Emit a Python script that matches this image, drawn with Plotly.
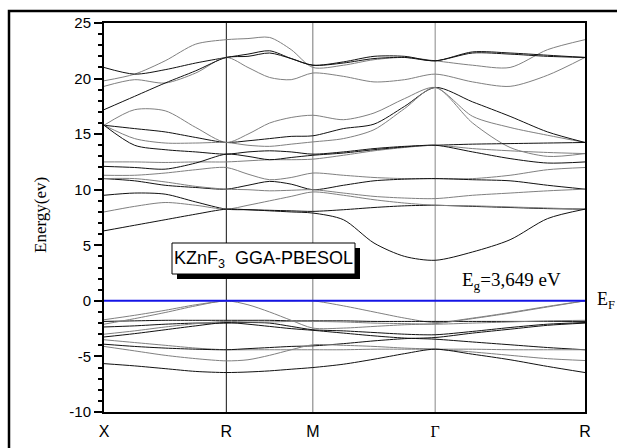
import numpy as np
import plotly.graph_objects as go

# ---- k-path ----
k_labels = ["X", "R", "M", "Γ", "R"]
k_nodes = [0.0, 0.7071, 1.2071, 1.9142, 2.7802]

# ---- energy ticks ----
y_ticks = [-10, -5, 0, 5, 10, 15, 20, 25]
y_ticktext = ["-10", "-5", "0", "5", "10", "15", "20", "25"]

# ---- bands (eV) sampled at 5 points per segment (shared endpoints) ----
cb01 = [19.8, 20.4, 21.6, 23.1, 23.5, 23.6, 23.7, 22.6, 21.0, 21.2, 21.7, 21.9, 21.6, 21.2, 21.0, 22.6, 23.5]
cb02 = [21.0, 20.4, 20.8, 21.4, 21.9, 22.2, 22.5, 21.8, 21.2, 21.5, 22.0, 22.0, 21.6, 22.4, 22.3, 22.1, 21.9]
cb03 = [19.3, 19.9, 19.6, 20.5, 21.9, 21.0, 20.1, 19.9, 20.5, 20.2, 19.7, 19.9, 20.4, 19.7, 19.3, 20.3, 21.9]
cb04 = [17.2, 18.4, 19.6, 20.7, 21.9, 22.0, 22.3, 21.8, 21.2, 21.4, 21.8, 21.9, 21.6, 22.3, 22.2, 22.0, 21.9]
cb05 = [15.8, 17.2, 17.1, 15.6, 14.25, 15.0, 16.0, 16.5, 16.7, 16.3, 16.9, 18.2, 19.2, 16.6, 15.6, 14.9, 14.25]
cb06 = [15.8, 15.5, 15.2, 14.7, 14.25, 14.4, 14.6, 14.8, 14.85, 15.5, 15.9, 17.5, 19.2, 17.9, 16.6, 15.2, 14.25]
cb07 = [15.8, 14.6, 14.2, 14.2, 14.25, 14.0, 13.9, 14.1, 14.3, 14.6, 15.4, 17.3, 19.2, 16.0, 13.8, 13.0, 13.25]
cb08 = [15.8, 14.0, 13.6, 13.4, 13.2, 13.4, 13.5, 13.4, 13.2, 13.4, 13.7, 13.9, 14.0, 14.1, 14.15, 14.2, 14.25]
cb09 = [12.5, 12.5, 12.45, 12.5, 12.5, 12.6, 12.7, 12.7, 12.75, 13.1, 13.5, 13.8, 14.0, 13.7, 13.5, 13.35, 13.25]
cb10 = [12.1, 12.0, 11.85, 12.4, 13.2, 13.0, 12.7, 12.9, 13.1, 13.3, 13.6, 13.85, 14.0, 13.4, 12.8, 12.4, 12.5]
cb11 = [11.3, 11.3, 11.5, 11.8, 12.0, 11.4, 10.9, 11.1, 11.5, 11.3, 11.1, 11.0, 11.0, 11.0, 11.3, 11.8, 12.0]
cb12 = [11.0, 10.8, 10.4, 10.2, 10.05, 10.4, 10.75, 10.5, 10.0, 10.4, 10.8, 10.95, 11.0, 10.9, 10.8, 10.4, 10.05]
cb13 = [11.0, 11.0, 10.7, 10.3, 10.05, 10.0, 9.9, 9.95, 10.0, 9.7, 9.4, 9.25, 9.2, 9.5, 9.7, 9.9, 10.05]
cb14 = [9.5, 9.7, 9.6, 8.9, 8.25, 8.2, 8.15, 8.1, 8.05, 8.2, 8.4, 8.55, 8.6, 8.5, 8.4, 8.3, 8.25]
cb15 = [8.0, 8.5, 8.85, 8.6, 8.25, 8.6, 9.0, 9.4, 9.8, 9.5, 9.1, 8.8, 8.6, 8.55, 8.45, 8.35, 8.25]
cb16 = [6.3, 6.8, 7.3, 7.8, 8.25, 8.2, 8.1, 8.0, 7.9, 7.3, 5.2, 4.0, 3.65, 4.4, 5.5, 7.4, 8.25]

vb01 = [-1.7, -1.3, -0.85, -0.35, 0, 0, 0, 0, 0, -0.45, -1.0, -1.55, -1.95, -1.55, -1.05, -0.5, 0]
vb02 = [-1.85, -1.8, -1.75, -1.75, -1.75, -1.75, -1.75, -1.8, -1.8, -1.8, -1.85, -1.85, -1.85, -1.85, -1.85, -1.85, -1.85]
vb03 = [-2.1, -1.6, -1.05, -0.45, 0, -0.35, -1.0, -1.75, -2.45, -2.45, -2.3, -2.15, -2.05, -1.6, -1.1, -0.55, 0]
vb04 = [-2.35, -2.25, -2.1, -2.0, -2.0, -1.95, -2.0, -2.3, -2.6, -2.7, -2.85, -3.0, -3.05, -2.75, -2.4, -2.1, -1.95]
vb05 = [-3.0, -2.7, -2.35, -2.05, -1.85, -1.9, -1.9, -1.85, -1.85, -1.9, -2.0, -2.05, -2.1, -2.0, -1.9, -1.8, -1.75]
vb06 = [-3.25, -2.95, -2.6, -2.25, -1.95, -2.1, -2.3, -2.5, -2.65, -2.9, -3.15, -3.35, -3.45, -3.7, -3.95, -4.2, -4.4]
vb07 = [-3.5, -3.75, -4.0, -4.25, -4.4, -4.4, -4.4, -4.4, -4.4, -4.4, -4.35, -4.35, -4.35, -4.35, -4.4, -4.4, -4.4]
vb08 = [-3.9, -4.1, -4.25, -4.35, -4.4, -4.3, -4.2, -4.1, -4.05, -3.85, -3.6, -3.4, -3.3, -2.9, -2.55, -2.2, -2.0]
vb09 = [-4.1, -4.5, -4.9, -5.2, -5.4, -5.3, -4.9, -4.4, -3.95, -4.0, -4.1, -4.25, -4.35, -4.6, -4.9, -5.2, -5.37]
vb10 = [-5.65, -5.85, -6.1, -6.35, -6.45, -6.4, -6.3, -6.15, -6.0, -5.7, -5.25, -4.75, -4.35, -4.8, -5.3, -5.9, -6.45]

bands = [cb01, cb02, cb03, cb04, cb05, cb06, cb07, cb08, cb09, cb10, cb11, cb12, cb13, cb14, cb15, cb16,
         vb01, vb02, vb03, vb04, vb05, vb06, vb07, vb08, vb09, vb10]
band_colors = ["#808080", "#111111"]

title_text = "KZnF<sub>3</sub>  GGA-PBESOL"
gap_text = "E<sub>g</sub>=3,649 eV"
fermi_text = "E<sub>F</sub>"
y_title = "Energy(ev)"

# ---- k axis built from the path nodes ----
kk = []
for i in range(len(k_nodes) - 1):
    seg = np.linspace(k_nodes[i], k_nodes[i + 1], 5)
    kk.extend(seg if i == 0 else seg[1:])
kk = np.array(kk)

W, H = 617, 448
L, R, T, B = 104, 585, 23, 412
def px(x):
    return (x - L) / (R - L)
def py(y):
    return (B - y) / (B - T)

fig = go.Figure()
for i, b in enumerate(bands):
    fig.add_trace(go.Scatter(x=kk, y=b, mode="lines",
                             line=dict(color=band_colors[i % 2], width=1, shape="spline", smoothing=0.8),
                             hoverinfo="skip", showlegend=False))

shapes = []
vcols = ["#111111", "#777777", "#888888"]
for kx, c in zip(k_nodes[1:-1], vcols):
    shapes.append(dict(type="line", xref="x", yref="paper", x0=kx, x1=kx, y0=0, y1=1,
                       line=dict(color=c, width=1), layer="below"))
shapes.append(dict(type="line", xref="paper", yref="y", x0=0, x1=1, y0=0, y1=0,
                   line=dict(color="#1414e6", width=2)))
# label box with shadow
shapes.append(dict(type="rect", xref="paper", yref="paper", x0=px(177), x1=px(360), y0=py(279), y1=py(248),
                   fillcolor="black", line=dict(width=0), layer="above"))
shapes.append(dict(type="rect", xref="paper", yref="paper", x0=px(172), x1=px(355), y0=py(274), y1=py(243),
                   fillcolor="white", line=dict(color="black", width=1), layer="above"))
# outer frame (top and left)
shapes.append(dict(type="path", xref="paper", yref="paper",
                   path=f"M {px(9)} {py(448)} L {px(9)} {py(11)} L {px(617)} {py(11)}",
                   line=dict(color="black", width=2.5)))
fig.update_layout(shapes=shapes)

ann = [
    dict(text=title_text, x=px(263.5), y=py(259), xref="paper", yref="paper", showarrow=False,
         font=dict(family="Liberation Sans, Arial", size=18, color="black"), xanchor="center", yanchor="middle"),
    dict(text=gap_text, x=px(511), y=py(281), xref="paper", yref="paper", showarrow=False,
         font=dict(family="Liberation Serif, Times New Roman", size=19, color="black"), xanchor="center", yanchor="middle"),
    dict(text=fermi_text, x=px(606), y=0, xref="paper", yref="y", showarrow=False,
         font=dict(family="Liberation Serif, Times New Roman", size=18, color="black"), xanchor="center", yanchor="middle"),
    dict(text=y_title, x=px(40), y=py(215), xref="paper", yref="paper", showarrow=False, textangle=-90,
         font=dict(family="Liberation Serif, Times New Roman", size=17, color="black"), xanchor="center", yanchor="middle"),
]
fig.update_layout(annotations=ann)

fig.update_xaxes(range=[k_nodes[0], k_nodes[-1]], tickvals=k_nodes,
                 ticktext=[t if t != "Γ" else '<span style="font-family:Liberation Serif">Γ</span>' for t in k_labels],
                 ticks="", showgrid=False, zeroline=False, showline=True, mirror=True,
                 linecolor="black", linewidth=2, ticklabelstandoff=4,
                 tickfont=dict(family="Liberation Sans, Arial", size=16, color="black"))
fig.update_yaxes(range=[-10, 25], tickvals=y_ticks, ticktext=y_ticktext,
                 ticks="outside", ticklen=8, tickwidth=1.5, tickcolor="black",
                 minor=dict(ticks="outside", ticklen=4, dtick=1, tick0=0, tickwidth=1.5, tickcolor="black", showgrid=False),
                 showgrid=False, zeroline=False, showline=True, mirror=True,
                 linecolor="black", linewidth=2,
                 tickfont=dict(family="Liberation Sans, Arial", size=15, color="black"))
fig.update_layout(width=W, height=H, margin=dict(l=L, r=W - R, t=T, b=H - B, autoexpand=False),
                  paper_bgcolor="white", plot_bgcolor="white", showlegend=False)

fig.write_html("out.html")
